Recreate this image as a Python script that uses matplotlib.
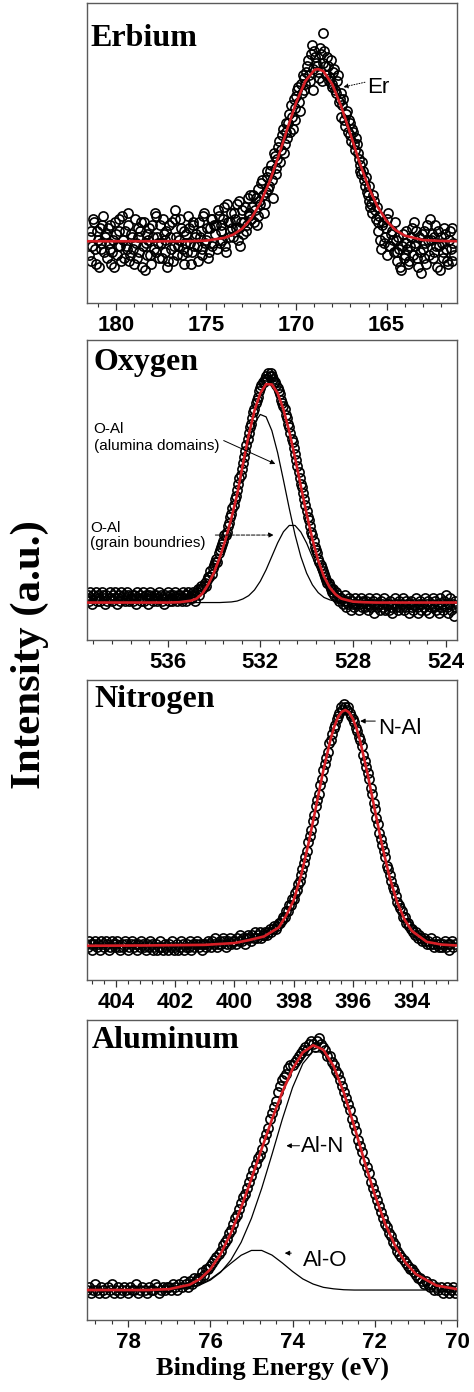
import matplotlib
matplotlib.use("Agg")
import matplotlib.pyplot as plt
from matplotlib.ticker import MultipleLocator
import numpy as np

plt.rcParams['font.family'] = ['Liberation Sans', 'DejaVu Sans']

# ---------------- Erbium 4d (two interleaved 0.1 eV grids) ----------------
# grid 181.5 -> 161.3 eV
er_counts = [
    16, 24, 19, 27, 13, 21, 25, 18, 29, 22,
    15, 20, 26, 17, 12, 23, 19, 28, 14, 21,
    24, 18, 30, 16, 22, 13, 20, 25, 17, 27,
    19, 11, 23, 21, 16, 26, 18, 29, 22, 15,
    20, 28, 17, 24, 14, 22, 27, 19, 31, 16,
    21, 25, 18, 13, 23, 29, 20, 17, 26, 22,
    19, 27, 24, 16, 30, 21, 15, 25, 28, 20,
    23, 18, 29, 26, 21, 32, 17, 27, 24, 30,
    22, 28, 33, 25, 19, 31, 27, 24, 35, 29,
    28, 36, 31, 26, 38, 33, 41, 30, 37, 44,
    39, 46, 35, 49, 43, 52, 47, 56, 50, 60,
    55, 63, 66, 58, 61, 69, 72, 64, 70, 75,
    73, 79, 76, 83, 71, 84, 80, 77, 85, 74,
    90, 79, 82, 74, 81, 73, 78, 70, 76, 68,
    62, 68, 59, 64, 61, 56, 58, 53, 55, 50,
    46, 43, 44, 39, 37, 34, 32, 30, 34, 28,
    24, 29, 18, 27, 22, 16, 30, 19, 24, 17,
    21, 14, 18, 11, 23, 16, 20, 13, 19, 25,
    27, 20, 15, 22, 10, 18, 24, 13, 21, 28,
    23, 17, 26, 12, 19, 22, 15, 25, 18, 13,
    24, 14, 20,
]
# grid 181.45 -> 161.25 eV
er_counts_mid = [
    22, 14, 28, 18, 24, 12, 20, 26, 17, 23,
    25, 18, 13, 21, 27, 16, 24, 19, 29, 15,
    19, 26, 14, 23, 18, 28, 15, 22, 24, 12,
    27, 20, 16, 25, 13, 22, 30, 17, 20, 26,
    15, 23, 21, 12, 26, 18, 14, 28, 22, 19,
    28, 16, 24, 20, 17, 25, 13, 27, 19, 23,
    14, 22, 18, 29, 20, 25, 17, 28, 19, 26,
    26, 31, 20, 24, 28, 19, 33, 22, 27, 25,
    30, 25, 21, 34, 27, 23, 32, 26, 30, 36,
    32, 27, 35, 29, 34, 40, 36, 33, 42, 38,
    44, 41, 50, 45, 48, 54, 51, 58, 53, 57,
    60, 57, 62, 68, 65, 71, 67, 73, 76, 71,
    77, 81, 74, 86, 78, 82, 79, 75, 83, 80,
    84, 76, 79, 75, 72, 77, 71, 74, 67, 70,
    66, 61, 63, 57, 60, 54, 57, 51, 53, 48,
    44, 47, 41, 42, 36, 39, 33, 36, 31, 32,
    27, 21, 26, 20, 25, 28, 19, 23, 21, 27,
    17, 22, 12, 19, 15, 24, 18, 14, 22, 16,
    19, 24, 12, 17, 23, 15, 20, 26, 16, 21,
    15, 22, 19, 24, 11, 20, 17, 23, 14, 21,
    18, 25, 16,
]
er_fit_energy = [181.6, 178, 176, 175, 174, 173.5, 173, 172.5, 172, 171.5, 171, 170.5, 170,
                 169.5, 169, 168.8, 168.5, 168, 167.5, 167, 166.5, 166, 165.5, 165, 164.5,
                 164, 163, 162, 161.1]
er_fit = [20.6, 20.6, 20.6, 20.8, 21.7, 22.8, 24.8, 28.2, 33.3, 40.2, 48.7, 58.1, 67.0,
          74.0, 77.7, 78.0, 77.3, 72.8, 65.3, 56.2, 46.9, 38.6, 32.1, 27.4, 24.3,
          22.5, 21.0, 20.7, 20.6]

# ---------------- Oxygen 1s (0.05 eV steps, 539.5 -> 523.55 eV) ----------------
o_counts = [
    14, 15, 13, 16, 14, 12, 15, 14, 16, 13, 15, 14, 13, 16, 15, 14, 12, 15, 13, 14,
    16, 14, 13, 15, 14, 16, 12, 14, 15, 13, 16, 14, 15, 13, 14, 16, 15, 13, 14, 15,
    13, 15, 14, 12, 16, 14, 15, 13, 14, 16, 13, 15, 14, 12, 15, 16, 14, 13, 15, 14,
    15, 13, 14, 16, 15, 13, 14, 12, 15, 14, 16, 13, 15, 14, 13, 15, 16, 14, 13, 15,
    14, 15, 13, 16, 14, 15, 13, 15, 16, 14, 15, 14, 16, 15, 13, 16, 17, 15, 17, 18,
    17, 18, 19, 18, 20, 21, 21, 23, 22, 24, 25, 26, 27, 26, 29, 30, 31, 32, 33, 35,
    35, 36, 38, 39, 41, 42, 44, 45, 47, 48, 50, 52, 54, 55, 57, 59, 61, 63, 65, 67,
    69, 71, 72, 74, 76, 77, 79, 80, 81, 83, 84, 85, 86, 86, 87, 88, 87, 89, 88, 89,
    88, 87, 86, 86, 85, 84, 83, 82, 80, 79, 78, 77, 75, 74, 72, 71, 69, 67, 66, 64,
    62, 60, 58, 56, 54, 52, 51, 49, 47, 45, 43, 41, 40, 38, 36, 35, 33, 31, 30, 29,
    27, 26, 25, 24, 23, 22, 21, 20, 19, 19, 18, 17, 16, 17, 15, 16, 14, 15, 13, 14,
    14, 12, 13, 15, 11, 13, 12, 14, 10, 13, 12, 11, 14, 12, 13, 10, 12, 14, 11, 13,
    11, 13, 12, 10, 14, 12, 11, 13, 9, 12, 14, 11, 12, 10, 13, 12, 11, 14, 10, 12,
    12, 10, 13, 11, 9, 12, 14, 11, 12, 10, 13, 11, 12, 14, 10, 11, 13, 12, 9, 12,
    13, 11, 10, 12, 14, 11, 9, 12, 13, 10, 12, 11, 14, 10, 12, 13, 9, 11, 12, 14,
    11, 13, 10, 12, 9, 14, 11, 12, 10, 13, 15, 11, 9, 12, 14, 10, 12, 8, 13, 11,
]
o_fit_energy = [539.5, 537, 536, 535.5, 535, 534.75, 534.5, 534.25, 534, 533.75, 533.5,
                533.25, 533, 532.75, 532.5, 532.25, 532, 531.75, 531.5, 531.25, 531,
                530.75, 530.5, 530.25, 530, 529.75, 529.5, 529.25, 529, 528.75, 528.5,
                528, 527.5, 527, 526, 523.5]
o_fit = [12.5, 12.5, 12.5, 12.6, 13.1, 13.8, 15.5, 18.5, 22.5, 27.5, 33.5,
         40.5, 48.5, 58.6, 68.3, 76.5, 82.3, 85.3, 85.2, 82.3, 76.9,
         69.6, 60.8, 51.3, 42.1, 33.6, 26.5, 21.2, 17.5, 15.2, 13.8,
         12.8, 12.6, 12.5, 12.5, 12.5]
o_domains = [12.5, 12.5, 12.5, 12.6, 13.1, 13.7, 15.5, 18.5, 22.5, 27.5, 33.4,
             40.3, 48.0, 57.4, 66.0, 72.3, 75.2, 74.4, 69.8, 62.4, 53.3,
             43.9, 35.1, 27.8, 22.3, 18.4, 15.8, 14.2, 13.4, 12.9, 12.7,
             12.5, 12.5, 12.5, 12.5, 12.5]
o_grain = [12.5, 12.5, 12.5, 12.5, 12.5, 12.5, 12.5, 12.5, 12.5, 12.5, 12.6,
           12.7, 13.0, 13.7, 14.8, 16.7, 19.6, 23.4, 27.9, 32.4, 36.1,
           38.2, 38.2, 36.0, 32.3, 27.7, 23.2, 19.5, 16.6, 14.75, 13.6,
           12.7, 12.5, 12.5, 12.5, 12.5]

# ---------------- Nitrogen 1s (0.05 eV steps, 405.0 -> 392.55 eV) ----------------
n_counts = [
    12, 11, 13, 12, 10, 12, 13, 11, 12, 10, 13, 12, 11, 13, 12, 10, 11, 13, 12, 11,
    12, 13, 11, 10, 12, 11, 13, 12, 10, 11, 12, 13, 11, 12, 10, 12, 11, 13, 12, 11,
    10, 12, 11, 13, 12, 10, 11, 12, 10, 11, 13, 11, 10, 12, 11, 10, 12, 11, 13, 10,
    11, 12, 10, 11, 13, 12, 10, 11, 12, 11, 13, 10, 12, 11, 12, 13, 11, 12, 10, 12,
    12, 11, 13, 12, 11, 13, 12, 14, 11, 12, 13, 12, 14, 13, 11, 12, 13, 14, 12, 13,
    13, 12, 14, 13, 15, 13, 14, 12, 14, 15, 14, 13, 15, 14, 16, 14, 15, 16, 14, 15,
    15, 16, 15, 16, 17, 16, 17, 18, 17, 18, 19, 19, 20, 21, 21, 23, 23, 25, 25, 27,
    27, 29, 30, 32, 33, 35, 37, 39, 41, 43, 46, 48, 50, 53, 55, 58, 60, 62, 65, 67,
    70, 72, 74, 76, 79, 80, 82, 84, 85, 87, 88, 89, 91, 90, 92, 91, 90, 91, 89, 88,
    87, 86, 84, 83, 81, 80, 78, 75, 73, 71, 69, 67, 64, 62, 59, 57, 54, 52, 49, 47,
    45, 43, 41, 38, 37, 35, 33, 31, 30, 28, 26, 25, 24, 23, 21, 21, 19, 19, 18, 17,
    17, 16, 15, 16, 14, 15, 14, 13, 14, 13, 12, 13, 12, 14, 12, 11, 13, 12, 11, 12,
    11, 12, 13, 11, 12, 10, 12, 13, 11, 12,
]
n_fit_energy = [405, 403, 401, 400, 399.5, 399, 398.5, 398.25, 398, 397.75, 397.5, 397.25,
                397, 396.75, 396.625, 396.5, 396.375, 396.25, 396.125, 396, 395.875,
                395.75, 395.5, 395.25, 395, 394.75, 394.5, 394.25, 394, 393.5, 393, 392.5]
n_fit = [11.4, 11.5, 11.7, 12.3, 13.3, 14.5, 17.5, 21.5, 26.5, 34.7, 45.3, 57.4,
         69.6, 80.3, 84.5, 87.6, 89.4, 90.0, 89.2, 87.1, 83.9,
         79.6, 68.7, 56.4, 44.4, 34.0, 25.9, 20.1, 16.3, 12.7, 11.8, 11.5]

# ---------------- Aluminum 2p (0.05 eV steps, 79.0 -> 70.0 eV) ----------------
al_counts = [
    10, 11, 9, 10, 12, 10, 9, 11, 10, 9, 11, 10, 12, 9, 10, 11, 9, 10, 11, 10,
    9, 11, 10, 10, 12, 9, 10, 11, 10, 9, 11, 10, 10, 12, 11, 9, 10, 11, 10, 11,
    11, 10, 12, 11, 10, 12, 11, 13, 12, 11, 13, 12, 14, 13, 14, 14, 16, 15, 17, 17,
    18, 19, 20, 21, 22, 23, 25, 26, 27, 29, 30, 32, 34, 35, 37, 39, 41, 42, 44, 46,
    48, 50, 52, 54, 55, 57, 60, 62, 64, 67, 69, 71, 73, 76, 78, 80, 81, 82, 84, 85,
    85, 86, 87, 88, 89, 90, 91, 90, 92, 93, 92, 91, 93, 94, 92, 91, 90, 88, 88, 86,
    85, 83, 82, 80, 78, 76, 74, 72, 70, 67, 65, 63, 60, 58, 56, 53, 51, 49, 46, 44,
    42, 40, 38, 36, 34, 32, 31, 29, 28, 26, 25, 23, 22, 21, 20, 19, 18, 17, 17, 16,
    15, 14, 14, 13, 12, 13, 12, 11, 12, 10, 11, 10, 11, 9, 10, 11, 9, 10, 11, 9,
    10,
]
al_fit_energy = [79, 78, 77.5, 77, 76.5, 76.25, 76, 75.75, 75.5, 75.25, 75, 74.75, 74.5,
                 74.25, 74, 73.75, 73.5, 73.25, 73, 72.75, 72.5, 72.25, 72, 71.75, 71.5,
                 71.25, 71, 70.5, 70]
al_fit = [10, 10, 10, 10.3, 11.8, 13.7, 16.9, 22.0, 29.0, 37.5, 47.1, 57.1, 66.9,
          75.95, 83.7, 89.2, 91.6, 90.1, 84.6, 75.7, 64.65, 52.9, 41.8, 32.2, 24.6,
          19.1, 15.3, 11.5, 10.3]
al_nitride = [10, 10, 10, 10.2, 10.9, 11.7, 13.3, 15.9, 20.0, 25.9, 33.9, 43.9, 55.2,
              66.9, 77.5, 85.5, 89.6, 89.2, 84.2, 75.6, 64.6, 52.9, 41.8, 32.2, 24.6,
              19.1, 15.3, 11.5, 10.3]
al_oxide = [10, 10, 10, 10.1, 10.9, 11.9, 13.6, 16.1, 18.9, 21.6, 23.2, 23.2, 21.65,
            19.05, 16.2, 13.7, 12.0, 10.9, 10.4, 10.1, 10, 10, 10, 10, 10,
            10, 10, 10, 10]

er_energy = np.linspace(181.5, 161.3, len(er_counts))
er_energy_mid = np.linspace(181.45, 161.25, len(er_counts_mid))
o_energy = np.linspace(539.5, 523.55, len(o_counts))
n_energy = np.linspace(405.0, 392.55, len(n_counts))
al_energy = np.linspace(79.0, 70.0, len(al_counts))

RED = '#d61f26'
AX_LEFT, AX_W, AX_H = 0.1835, 0.7806, 0.2155
MARK = dict(ls='none', marker='o', mfc='none', mec='black', ms=6.6, mew=1.2, zorder=2)


def draw_panel(fig, bottom, energy, counts, fit_energy, fit, xlim, major, minor,
               title, title_xy):
    ax = fig.add_axes([AX_LEFT, bottom, AX_W, AX_H])
    ax.plot(energy, counts, **MARK)
    ax.plot(fit_energy, fit, color=RED, lw=1.9, zorder=4)
    ax.set_xlim(*xlim)
    ax.set_ylim(0, 100)
    ax.set_yticks([])
    ax.xaxis.set_major_locator(MultipleLocator(major))
    ax.xaxis.set_minor_locator(MultipleLocator(minor))
    ax.tick_params(axis='x', which='major', direction='out', length=5, width=0.9,
                   pad=3.5, labelsize=16, color='#333333')
    ax.tick_params(axis='x', which='minor', direction='out', length=2.6, width=0.8,
                   color='#333333')
    for lab in ax.get_xticklabels():
        lab.set_fontweight('bold')
    for sp in ax.spines.values():
        sp.set_color('#5a5a5a')
        sp.set_linewidth(1.0)
    ax.text(title_xy[0], title_xy[1], title, transform=ax.transAxes, ha='left',
            va='baseline', fontsize=23, fontweight='bold', family='Liberation Serif')
    return ax


def arrow(ax, head, tail, style='-'):
    ax.annotate('', xy=head, xytext=tail,
                arrowprops=dict(arrowstyle='-|>', lw=0.7, color='black',
                                linestyle=style, mutation_scale=7, shrinkA=0, shrinkB=0),
                zorder=5)


fig = plt.figure(figsize=(4.74, 13.92), dpi=100)

# Erbium
ax1 = draw_panel(fig, 0.7823, er_energy, er_counts, er_fit_energy, er_fit,
                 (181.6, 161.1), 5, 1, 'Erbium', (0.008, 0.857))
ax1.plot(er_energy_mid, er_counts_mid, **MARK)
ax1.text(166.1, 72.0, 'Er', fontsize=16, ha='left', va='center')
arrow(ax1, (167.4, 72.0), (166.2, 73.6), style=':')

# Oxygen
ax2 = draw_panel(fig, 0.5402, o_energy, o_counts, o_fit_energy, o_fit,
                 (539.48, 523.51), 4, 0.8, 'Oxygen', (0.017, 0.899))
ax2.plot(o_fit_energy, o_domains, color='black', lw=0.9, zorder=1)
ax2.plot(o_fit_energy, o_grain, color='black', lw=0.9, zorder=1)
ax2.text(539.19, 67.5, 'O-Al\n(alumina domains)', fontsize=11, ha='left', va='center',
         linespacing=1.2)
ax2.text(539.34, 34.9, 'O-Al\n(grain boundries)', fontsize=11, ha='left', va='center',
         linespacing=1.1)
arrow(ax2, (531.35, 58.7), (533.58, 66.5))
arrow(ax2, (531.42, 35.0), (533.94, 35.0), style='--')

# Nitrogen
ax3 = draw_panel(fig, 0.2960, n_energy, n_counts, n_fit_energy, n_fit,
                 (404.98, 392.48), 2, 0.4, 'Nitrogen', (0.019, 0.911))
ax3.text(395.13, 83.9, 'N-Al', fontsize=16, ha='left', va='center')
arrow(ax3, (395.75, 86.3), (395.24, 86.3))

# Aluminum
ax4 = draw_panel(fig, 0.0517, al_energy, al_counts, al_fit_energy, al_fit,
                 (79.0, 70.0), 2, 0.4, 'Aluminum', (0.013, 0.908))
ax4.plot(al_fit_energy, al_nitride, color='black', lw=0.9, zorder=1)
ax4.plot(al_fit_energy, al_oxide, color='black', lw=0.9, zorder=3)
ax4.text(73.79, 57.9, 'Al-N', fontsize=16, ha='left', va='center')
arrow(ax4, (74.15, 58.1), (73.83, 58.1))
ax4.text(73.75, 19.8, 'Al-O', fontsize=16, ha='left', va='center')
arrow(ax4, (74.19, 22.3), (74.03, 22.3))

fig.text(0.063, 0.5295, 'Intensity (a.u.)', rotation=90, ha='center', va='center',
         fontsize=31, fontweight='bold', family='Liberation Serif')
fig.text(0.574, 0.0172, 'Binding Energy (eV)', ha='center', va='center',
         fontsize=19, fontweight='bold', family='Liberation Serif')

fig.savefig('out.png', dpi=100)
plt.close(fig)
